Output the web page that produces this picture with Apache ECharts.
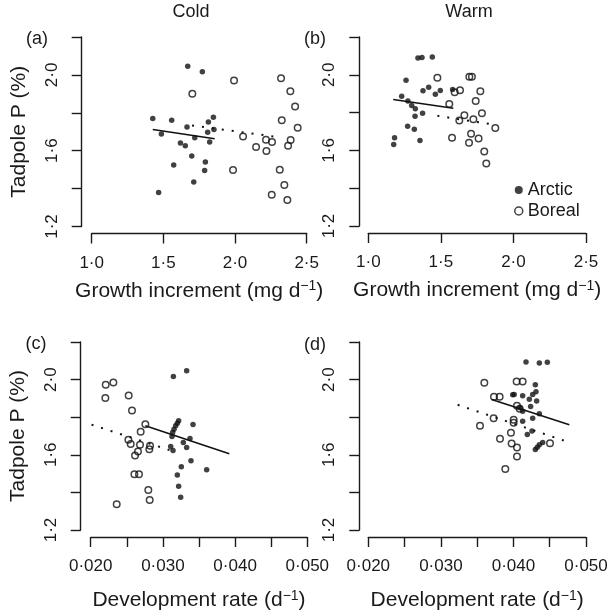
<!DOCTYPE html>
<html lang="en">
<head>
<meta charset="UTF-8">
<title>Tadpole P</title>
<script src="https://cdn.jsdelivr.net/npm/echarts@6/dist/echarts.min.js"></script>
<style>
  body { margin: 0; background: #fff; }
  #chart { width: 611px; height: 615px; }
</style>
</head>
<body>
<div id="chart"></div>
<script>
// (a) cold, growth increment
const coldGrowthArctic = [
  [1.426, 1.770], [1.486, 1.688], [1.558, 1.761], [1.670, 2.046], [1.772, 2.016],
  [1.665, 1.725], [1.814, 1.751], [1.849, 1.777], [1.809, 1.698], [1.853, 1.712],
  [1.719, 1.668], [1.823, 1.646], [1.619, 1.640], [1.653, 1.626], [1.698, 1.572],
  [1.572, 1.525], [1.793, 1.540], [1.788, 1.496], [1.712, 1.435], [1.467, 1.379]
];
const coldGrowthBoreal = [
  [1.702, 1.900], [1.993, 1.970], [2.321, 1.982], [2.386, 1.914], [2.419, 1.833],
  [2.326, 1.761], [2.437, 1.721], [2.056, 1.675], [2.147, 1.619], [2.216, 1.658],
  [2.258, 1.646], [2.219, 1.598], [2.388, 1.656], [2.370, 1.626], [1.986, 1.498],
  [2.312, 1.500], [2.344, 1.419], [2.256, 1.367], [2.365, 1.340]
];
const coldGrowthFitArctic = [[1.426, 1.712], [1.858, 1.663]];
const coldGrowthFitBoreal = [[1.700, 1.733], [2.320, 1.670]];

// (b) warm, growth increment
const warmGrowthArctic = [
  [1.342, 2.089], [1.370, 2.091], [1.441, 2.094], [1.260, 1.971], [1.416, 1.934],
  [1.377, 1.915], [1.496, 1.917], [1.462, 1.897], [1.581, 1.922], [1.230, 1.887],
  [1.273, 1.862], [1.299, 1.837], [1.324, 1.820], [1.322, 1.781], [1.374, 1.797],
  [1.271, 1.728], [1.317, 1.712], [1.181, 1.667], [1.175, 1.631], [1.356, 1.652]
];
const warmGrowthBoreal = [
  [1.476, 1.985], [1.696, 1.990], [1.714, 1.990], [1.595, 1.908], [1.632, 1.918],
  [1.772, 1.913], [1.558, 1.846], [1.740, 1.862], [1.662, 1.786], [1.627, 1.758],
  [1.724, 1.765], [1.783, 1.797], [1.875, 1.719], [1.577, 1.667], [1.708, 1.688],
  [1.694, 1.640], [1.760, 1.663], [1.799, 1.594], [1.813, 1.531]
];
const warmGrowthFitArctic = [[1.172, 1.869], [1.586, 1.823]];
const warmGrowthFitBoreal = [[1.476, 1.783], [1.875, 1.735]];

// (c) cold, development rate
const coldDevArctic = [
  [0.03145, 2.017], [0.03329, 2.047], [0.03218, 1.781], [0.03200, 1.768], [0.03177, 1.754],
  [0.03154, 1.736], [0.03135, 1.719], [0.03417, 1.761], [0.03126, 1.697], [0.03375, 1.687],
  [0.03283, 1.665], [0.03108, 1.644], [0.03329, 1.639], [0.03140, 1.623], [0.03389, 1.569],
  [0.03255, 1.537], [0.03606, 1.521], [0.03200, 1.493], [0.03218, 1.433], [0.03246, 1.374]
];
const coldDevBoreal = [
  [0.02208, 1.973], [0.02314, 1.985], [0.02203, 1.902], [0.02526, 1.916], [0.02572, 1.836],
  [0.02757, 1.763], [0.02692, 1.722], [0.02522, 1.680], [0.02554, 1.658], [0.02683, 1.653],
  [0.02822, 1.648], [0.02812, 1.630], [0.02655, 1.617], [0.02614, 1.596], [0.02605, 1.497],
  [0.02669, 1.497], [0.02798, 1.413], [0.02817, 1.360], [0.02360, 1.337]
];
const coldDevFitArctic = [[0.02757, 1.754], [0.03920, 1.605]];
const coldDevFitBoreal = [[0.01880, 1.777], [0.03100, 1.624]];

// (d) warm, development rate
const warmDevArctic = [
  [0.04173, 2.093], [0.04357, 2.088], [0.04467, 2.092], [0.04302, 1.973], [0.03990, 1.919],
  [0.04010, 1.921], [0.04127, 1.914], [0.04265, 1.921], [0.04311, 1.935], [0.04219, 1.896],
  [0.04320, 1.886], [0.04237, 1.857], [0.04090, 1.850], [0.04127, 1.832], [0.04357, 1.818],
  [0.04265, 1.795], [0.04127, 1.779], [0.04256, 1.726], [0.04191, 1.708], [0.04403, 1.665],
  [0.04357, 1.653], [0.04329, 1.640], [0.04302, 1.628]
];
const warmDevBoreal = [
  [0.03599, 1.983], [0.04044, 1.990], [0.04127, 1.990], [0.03732, 1.909], [0.03810, 1.909],
  [0.04049, 1.861], [0.04086, 1.845], [0.03727, 1.795], [0.04003, 1.786], [0.04003, 1.770],
  [0.03539, 1.754], [0.03966, 1.717], [0.03815, 1.685], [0.03975, 1.660], [0.04049, 1.639],
  [0.04504, 1.662], [0.04049, 1.591], [0.03888, 1.525]
];
const warmDevFitArctic = [[0.03700, 1.894], [0.04770, 1.760]];
const warmDevFitBoreal = [[0.03231, 1.866], [0.04761, 1.667]];

const panelTitles = ['Cold', 'Warm'];
const panelLetters = ['(a)', '(b)', '(c)', '(d)'];
const yName = 'Tadpole P (%)';
const yLabelled = [1.2, 1.6, 2.0];

const FONT = 'Liberation Sans';
const INK = '#1a1a1a';

const chart = echarts.init(document.getElementById('chart'));

const dot = v => v.replace('.', '\u00b7');

// grid boxes
const grids = [
  { left: 91.7, top: 37, width: 215, height: 189.5 },
  { left: 368.3, top: 37, width: 217.7, height: 189 },
  { left: 90.7, top: 342, width: 216.6, height: 188 },
  { left: 368.3, top: 342, width: 217.7, height: 188 }
];

function xAxisFor(i) {
  const growth = i < 2;
  return {
    type: 'value', gridIndex: i,
    min: growth ? 1.0 : 0.02, max: growth ? 2.5 : 0.05, interval: growth ? 0.5 : 0.005,
    offset: 7,
    name: growth ? 'Growth increment (mg d{s|\u22121})' : 'Development rate (d{s|\u22121})',
    nameLocation: 'middle', nameGap: growth ? 46 : 52,
    nameTextStyle: {
      fontFamily: FONT, fontSize: 21, color: INK,
      rich: { s: { fontFamily: FONT, fontSize: 14, color: INK, verticalAlign: 'top', padding: [0, 0, 9, 0] } }
    },
    axisLine: { show: true, lineStyle: { color: INK, width: 1.4 } },
    axisTick: { show: true, length: 10, lineStyle: { color: INK, width: 1.4 } },
    splitLine: { show: false },
    axisLabel: {
      margin: 21, fontFamily: FONT, fontSize: 17, color: INK, showMinLabel: true, showMaxLabel: true,
      formatter: v => {
        if (growth) return dot(v.toFixed(1));
        const m = Math.round(v * 1000);
        return m % 10 === 0 ? dot((m / 1000).toFixed(3)) : '';
      }
    }
  };
}

function yAxisFor(i) {
  return {
    type: 'value', gridIndex: i, min: 1.2, max: 2.2, interval: 0.2,
    offset: (i % 2 === 0) ? 10 : 9,
    name: (i % 2 === 0) ? yName : '',
    nameLocation: 'middle', nameGap: 52,
    nameTextStyle: { fontFamily: FONT, fontSize: 21, color: INK },
    axisLine: { show: true, lineStyle: { color: INK, width: 1.4 } },
    axisTick: { show: true, length: 10, lineStyle: { color: INK, width: 1.4 } },
    splitLine: { show: false },
    axisLabel: {
      rotate: 90, margin: 21, fontFamily: FONT, fontSize: 17, color: INK,
      showMinLabel: true, showMaxLabel: true,
      formatter: v => yLabelled.some(t => Math.abs(t - v) < 1e-6) ? dot(v.toFixed(1)) : ''
    }
  };
}

function pointsSeries(i, name, data, open) {
  return {
    type: 'scatter', name, xAxisIndex: i, yAxisIndex: i, data,
    symbol: 'circle', symbolSize: open ? 6.5 : 5.5,
    itemStyle: open
      ? { color: 'rgba(0,0,0,0)', borderColor: '#111', borderWidth: 1.5 }
      : { color: '#111' },
    silent: true, z: 3
  };
}

function fitSeries(i, data, dotted) {
  return {
    type: 'line', xAxisIndex: i, yAxisIndex: i, data,
    symbol: 'none', clip: false, silent: true, z: 2,
    lineStyle: dotted
      ? { color: '#111', width: 2, type: [2, 8] }
      : { color: '#111', width: 1.6 }
  };
}

const panels = [
  [coldGrowthArctic, coldGrowthBoreal, coldGrowthFitArctic, coldGrowthFitBoreal],
  [warmGrowthArctic, warmGrowthBoreal, warmGrowthFitArctic, warmGrowthFitBoreal],
  [coldDevArctic, coldDevBoreal, coldDevFitArctic, coldDevFitBoreal],
  [warmDevArctic, warmDevBoreal, warmDevFitArctic, warmDevFitBoreal]
];

const series = [];
panels.forEach((p, i) => {
  series.push(pointsSeries(i, 'Arctic', p[0], false));
  series.push(pointsSeries(i, 'Boreal', p[1], true));
  series.push(fitSeries(i, p[2], false));
  series.push(fitSeries(i, p[3], true));
});

const letterPos = [[37, 39], [315, 39], [36, 344], [315, 345]];
const titlePos = [[191, 12], [469, 12]];

const graphics = [];
panelLetters.forEach((t, i) => graphics.push({
  type: 'text', x: letterPos[i][0], y: letterPos[i][1],
  style: { text: t, font: '18px ' + FONT, fill: INK, textAlign: 'center', textVerticalAlign: 'middle' }
}));
panelTitles.forEach((t, i) => graphics.push({
  type: 'text', x: titlePos[i][0], y: titlePos[i][1],
  style: { text: t, font: '18px ' + FONT, fill: INK, textAlign: 'center', textVerticalAlign: 'middle' }
}));

chart.setOption({
  animation: false,
  backgroundColor: '#fff',
  textStyle: { fontFamily: FONT },
  grid: grids,
  xAxis: [0, 1, 2, 3].map(xAxisFor),
  yAxis: [0, 1, 2, 3].map(yAxisFor),
  legend: {
    orient: 'vertical', left: 509, top: 176,
    itemWidth: 8, itemHeight: 8, itemGap: 3, selectedMode: false,
    textStyle: { fontFamily: FONT, fontSize: 18, color: INK },
    data: [
      { name: 'Arctic', icon: 'circle', itemStyle: { color: '#111' } },
      { name: 'Boreal', icon: 'circle', itemStyle: { color: '#fff', borderColor: '#111', borderWidth: 1.5 } }
    ]
  },
  graphic: graphics,
  series
});
</script>
</body>
</html>
